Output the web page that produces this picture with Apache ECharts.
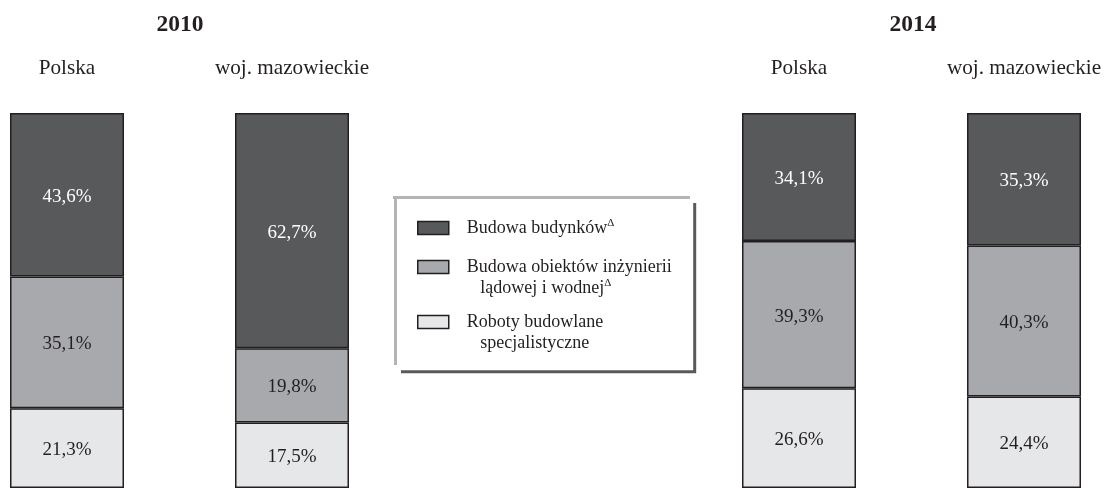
<!DOCTYPE html>
<html>
<head>
<meta charset="utf-8">
<script src="https://cdn.jsdelivr.net/npm/echarts@6/dist/echarts.min.js"></script>
<style>
  html, body { margin: 0; padding: 0; background: #fff; }
  #chart { width: 1107px; height: 488px; }
</style>
</head>
<body>
<div id="chart"></div>
<script>
// Struktura produkcji budowlano-montażowej według działów (%)
const years = ['2010', '2014'];
const regions = ['Polska', 'woj. mazowieckie'];
const seriesNames = [
  'Budowa budynków',
  'Budowa obiektów inżynierii lądowej i wodnej',
  'Roboty budowlane specjalistyczne'
];
const legendLabels = [
  'Budowa budynków{sup|Δ}',
  'Budowa obiektów inżynierii\n   lądowej i wodnej{sup|Δ}',
  'Roboty budowlane\n   specjalistyczne'
];

const budynki2010 = [43.6, 62.7];
const inzynieria2010 = [35.1, 19.8];
const specjalistyczne2010 = [21.3, 17.5];

const budynki2014 = [34.1, 35.3];
const inzynieria2014 = [39.3, 40.3];
const specjalistyczne2014 = [26.6, 24.4];

const FONT = "'Liberation Serif', 'Times New Roman', serif";
const INK = '#231f20';
const fills = ['#58595b', '#a7a9ac', '#e6e7e8'];
const labelColors = ['#ffffff', INK, INK];

const dataByYear = [
  [budynki2010, inzynieria2010, specjalistyczne2010],
  [budynki2014, inzynieria2014, specjalistyczne2014]
];

const fmt = p => p.value.toFixed(1).replace('.', ',') + '%';

// categories sit on the axis ends (boundaryGap: false), so each grid spans bar centre to bar centre
const grids = [
  { left: 67, width: 225, top: 113, height: 376 },
  { left: 799, width: 225, top: 113, height: 376 }
];

const xAxes = grids.map((g, i) => ({
  type: 'category',
  gridIndex: i,
  data: regions,
  boundaryGap: false,
  position: 'top',
  axisLine: { show: false },
  axisTick: { show: false },
  axisLabel: { color: INK, fontFamily: FONT, fontSize: 21.2, margin: 34.5, interval: 0 }
}));

const yAxes = grids.map((g, i) => ({
  type: 'value',
  gridIndex: i,
  min: 0,
  max: 100,
  show: false
}));

// stack from the bottom: specialist works, civil engineering, buildings on top
const series = [];
dataByYear.forEach((sets, gi) => {
  [2, 1, 0].forEach(si => {
    series.push({
      name: seriesNames[si],
      type: 'bar',
      xAxisIndex: gi,
      yAxisIndex: gi,
      stack: 'y' + gi,
      barWidth: 114,
      data: sets[si],
      itemStyle: { color: fills[si], borderColor: INK, borderWidth: 1.5 },
      label: {
        show: true,
        position: 'inside',
        offset: [0, 2],
        formatter: fmt,
        color: labelColors[si],
        fontFamily: FONT,
        fontSize: 19
      },
      emphasis: { disabled: true }
    });
  });
});

// one legend block per entry so each wrapped label keeps its square beside the first line
const legendTops = [217.5, 235.5, 290.5];
const legends = seriesNames.map((name, i) => ({
  data: [name],
  left: 417,
  top: legendTops[i],
  padding: 0,
  orient: 'vertical',
  icon: 'rect',
  itemWidth: 31,
  itemHeight: 13,
  selectedMode: false,
  itemStyle: { borderColor: INK, borderWidth: 1.5 },
  formatter: () => legendLabels[i],
  textStyle: {
    color: INK,
    fontFamily: FONT,
    fontSize: 18,
    lineHeight: 21,
    padding: i === 0 ? [0, 0, 0, 13] : [21, 0, 0, 13],
    rich: {
      sup: { fontFamily: FONT, fontSize: 11, color: INK, verticalAlign: 'top', lineHeight: 21 }
    }
  }
}));

const chart = echarts.init(document.getElementById('chart'));
chart.setOption({
  backgroundColor: '#fff',
  animation: false,
  title: years.map((y, i) => ({
    text: y,
    left: i === 0 ? 180 : 913,
    top: 12.5,
    padding: 0,
    textAlign: 'center',
    textStyle: { fontFamily: FONT, fontSize: 23.5, fontWeight: 'bold', color: INK }
  })),
  grid: grids,
  xAxis: xAxes,
  yAxis: yAxes,
  legend: legends,
  series: series,
  graphic: [
    { type: 'line', shape: { x1: 393, y1: 197.5, x2: 690, y2: 197.5 }, style: { stroke: '#b3b4b6', lineWidth: 3 } },
    { type: 'line', shape: { x1: 395.5, y1: 196, x2: 395.5, y2: 365 }, style: { stroke: '#b3b4b6', lineWidth: 3 } },
    { type: 'line', shape: { x1: 694.7, y1: 203, x2: 694.7, y2: 373 }, style: { stroke: '#58595b', lineWidth: 3 } },
    { type: 'line', shape: { x1: 401, y1: 371.7, x2: 696, y2: 371.7 }, style: { stroke: '#58595b', lineWidth: 3 } }
  ]
});
</script>
</body>
</html>
